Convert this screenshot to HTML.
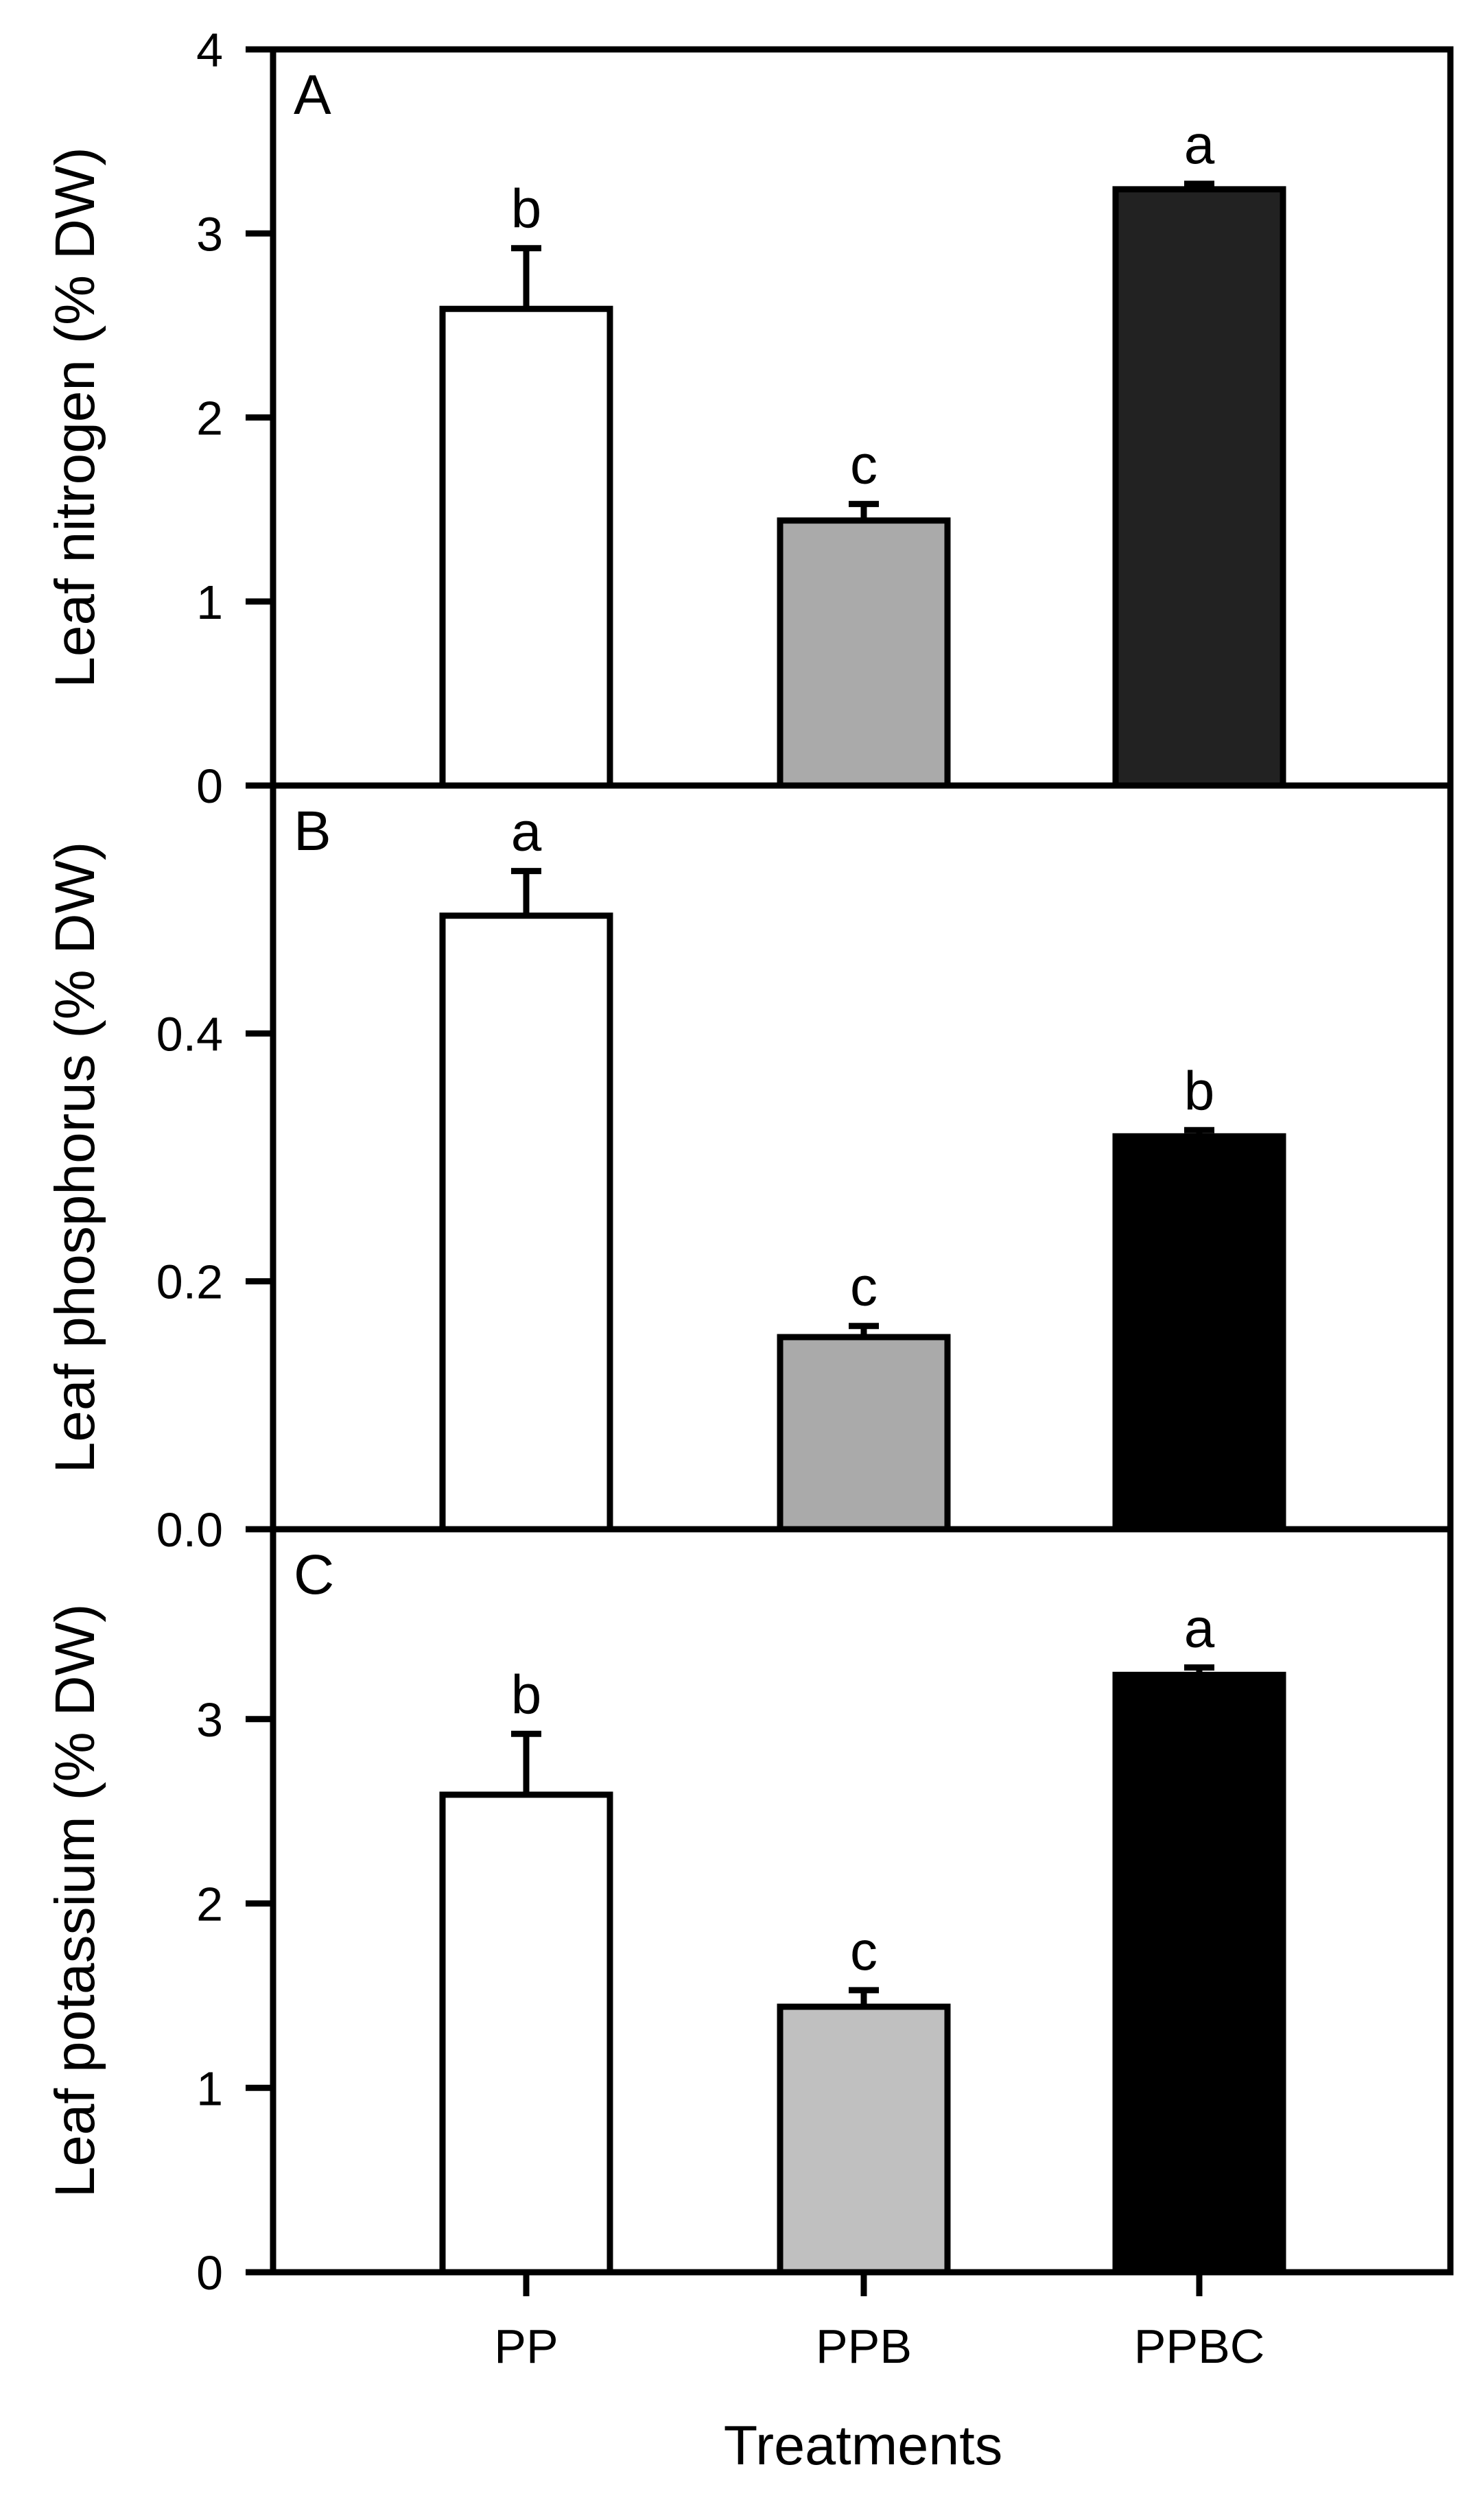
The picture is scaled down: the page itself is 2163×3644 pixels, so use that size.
<!DOCTYPE html>
<html><head><meta charset="utf-8"><style>
html,body{margin:0;padding:0;background:#fff;}
svg{display:block;}
text{font-family:"Liberation Sans",Arial,sans-serif;fill:#000;}
</style></head><body>
<svg id="chart" width="2163" height="3644" viewBox="0 0 2163 3644" xmlns="http://www.w3.org/2000/svg"></svg>
<script>
const categories = ["PP", "PPB", "PPBC"];
const nitrogenValues = [2.59, 1.44, 3.24];
const nitrogenErrors = [0.33, 0.09, 0.03];
const nitrogenLetters = ["b", "c", "a"];
const phosphorusValues = [0.495, 0.155, 0.317];
const phosphorusErrors = [0.036, 0.009, 0.005];
const phosphorusLetters = ["a", "c", "b"];
const potassiumValues = [2.59, 1.44, 3.24];
const potassiumErrors = [0.33, 0.09, 0.04];
const potassiumLetters = ["b", "c", "a"];
const nitrogenTicks = [0, 1, 2, 3, 4];
const nitrogenTickLabels = ["0", "1", "2", "3", "4"];
const phosphorusTicks = [0, 0.2, 0.4];
const phosphorusTickLabels = ["0.0", "0.2", "0.4"];
const potassiumTicks = [0, 1, 2, 3];
const potassiumTickLabels = ["0", "1", "2", "3"];

const NS = "http://www.w3.org/2000/svg";
const svg = document.getElementById("chart");
const X0 = 398, X1 = 2114;
const centers = [767, 1259, 1748];
const barW = 244;
function mk(tag, attrs, parent) {
  const e = document.createElementNS(NS, tag);
  for (const k in attrs) e.setAttribute(k, attrs[k]);
  (parent || svg).appendChild(e);
  return e;
}
function xScale(i) { return centers[i]; }

const panels = [
  {id:"a", label:"A", top:72, bottom:1145, max:4, vals:nitrogenValues, errs:nitrogenErrors, letters:nitrogenLetters, ticks:nitrogenTicks, tickLabels:nitrogenTickLabels, title:"Leaf nitrogen (% DW)", fills:["#ffffff","#aaaaaa","#222222"]},
  {id:"b", label:"B", top:1145, bottom:2229, max:0.6, vals:phosphorusValues, errs:phosphorusErrors, letters:phosphorusLetters, ticks:phosphorusTicks, tickLabels:phosphorusTickLabels, title:"Leaf phosphorus (% DW)", fills:["#ffffff","#aaaaaa","#000000"]},
  {id:"c", label:"C", top:2229, bottom:3312, max:4.03, vals:potassiumValues, errs:potassiumErrors, letters:potassiumLetters, ticks:potassiumTicks, tickLabels:potassiumTickLabels, title:"Leaf potassium (% DW)", fills:["#ffffff","#c0c0c0","#000000"]}
];

panels.forEach(p => {
  const g = mk("g", {});
  
  
  const y = v => p.bottom - (v / p.max) * (p.bottom - p.top);
  p.vals.forEach((v, i) => {
    const cx = xScale(i);
    const r = mk("rect", {x: cx - barW/2, y: y(v), width: barW, height: p.bottom - y(v), fill: p.fills[i], stroke: "#000", "stroke-width": 9}, g);
    
    
    const et = y(v + p.errs[i]);
    const el = mk("path", {d: `M${cx} ${y(v)} V${et} M${cx-22} ${et} H${cx+22}`, stroke: "#000", "stroke-width": 9, fill: "none"}, g);
    
    
    const t = mk("text", {x: cx, y: et - 30, "font-size": 80, "text-anchor": "middle"}, g);
    t.textContent = p.letters[i];
    
    
  });
  p.ticks.forEach((tv, i) => {
    const ty = y(tv);
    const tk = mk("line", {x1: 358, x2: X0, y1: ty, y2: ty, stroke: "#000", "stroke-width": 9}, g);
    
    
    const tl = mk("text", {x: 325, y: ty + 25, "font-size": 70, "text-anchor": "end"}, g);
    tl.textContent = p.tickLabels[i];
    
    
  });
  const fr = mk("rect", {x: X0, y: p.top, width: X1 - X0, height: p.bottom - p.top, fill: "none", stroke: "#000", "stroke-width": 9}, g);
  
  
  const pl = mk("text", {x: 428, y: p.top + 94, "font-size": 82}, g);
  pl.textContent = p.label;
  
  
  const cy = (p.top + p.bottom) / 2;
  const yt = mk("text", {x: 137, y: cy, "font-size": 82, "text-anchor": "middle", transform: `rotate(-90 137 ${cy})`}, g);
  yt.textContent = p.title;
  
  
});

categories.forEach((c, i) => {
  const cx = xScale(i);
  const tk = mk("line", {x1: cx, x2: cx, y1: 3312, y2: 3347, stroke: "#000", "stroke-width": 9});
  
  
  const t = mk("text", {x: cx, y: 3444, "font-size": 70, "text-anchor": "middle"});
  t.textContent = c;
  
  
});
const xt = mk("text", {x: 1258, y: 3592, "font-size": 81, "text-anchor": "middle"});
xt.textContent = "Treatments";


</script>
</body></html>
